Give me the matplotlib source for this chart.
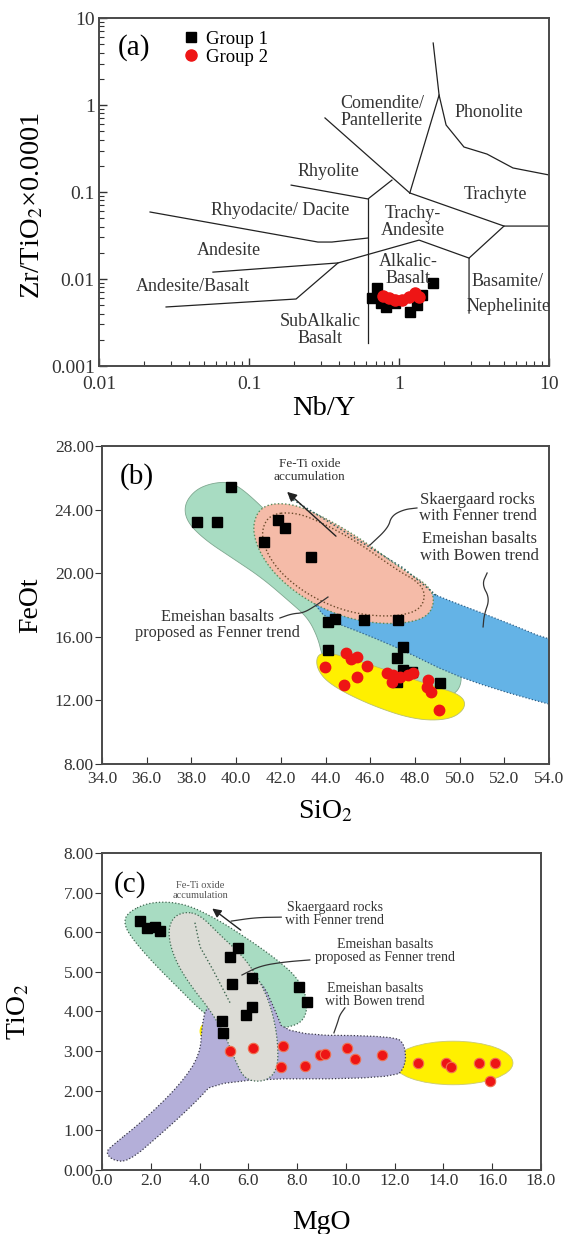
import numpy as np
import matplotlib
matplotlib.use('Agg')
import matplotlib.pyplot as plt
from matplotlib.patches import Polygon, Ellipse
from matplotlib.ticker import FuncFormatter, FixedLocator, LogLocator, NullFormatter

plt.rcParams['font.family'] = ['Liberation Serif', 'DejaVu Serif']
plt.rcParams['mathtext.fontset'] = 'stix'

# ---------------- panel (a): Nb/Y vs Zr/TiO2 ----------------
a_g1_nby = [0.66, 0.71, 0.76, 0.82, 0.87, 0.94, 1.18, 1.32, 1.42, 1.69]
a_g1_zr = [0.0060, 0.0079, 0.0053, 0.0048, 0.0058, 0.0053, 0.0042, 0.0050, 0.0066, 0.0090]
a_g2_nby = [0.78, 0.86, 0.94, 1.05, 1.16, 1.27, 1.35]
a_g2_zr = [0.0064, 0.0061, 0.0058, 0.0058, 0.0062, 0.0069, 0.0062]

# field boundaries (Winchester & Floyd), each as (Nb/Y list, Zr/TiO2 list)
a_fields = [
    ([1.69, 1.85, 2.06, 2.71, 3.86, 5.75, 10.0], [5.16, 1.30, 0.589, 0.329, 0.273, 0.189, 0.157]),
    ([1.18, 1.85], [0.0975, 1.30]),
    ([0.321, 1.18], [0.71, 0.0975]),
    ([0.191, 0.621, 0.897], [0.120, 0.0832, 0.137]),
    ([0.621, 0.621], [0.0832, 0.00184]),
    ([1.18, 5.01, 10.0], [0.0975, 0.0406, 0.0406]),
    ([5.01, 2.93, 2.93], [0.0406, 0.0174, 0.00406]),
    ([0.0219, 0.288, 0.357, 0.621], [0.0589, 0.0266, 0.0266, 0.0296]),
    ([0.0575, 0.392, 1.36, 2.93], [0.0120, 0.0153, 0.0280, 0.0174]),
    ([0.0280, 0.206, 0.392], [0.00477, 0.00589, 0.0153]),
]
a_names = ['Comendite/\nPantellerite', 'Phonolite', 'Rhyolite', 'Trachyte',
           'Rhyodacite/ Dacite', 'Trachy-\nAndesite', 'Andesite', 'Alkalic-\nBasalt',
           'Andesite/Basalt', 'Basamite/', 'Nephelinite', 'SubAlkalic\nBasalt']
a_name_x = [0.77, 3.98, 0.34, 4.37, 0.161, 1.24, 0.0736, 1.15, 0.0424, 5.25, 5.35, 0.297]
a_name_y = [0.83, 0.81, 0.174, 0.0925, 0.062, 0.0452, 0.021, 0.0127, 0.0081, 0.00925, 0.00477, 0.0026]

# ---------------- panel (b): SiO2 vs FeOt ----------------
b_g1_sio2 = [39.77, 38.25, 39.15, 41.87, 42.19, 41.25, 43.35, 44.11, 44.42, 45.72, 47.24,
             44.11, 47.47, 47.20, 47.47, 47.87, 47.20, 49.12]
b_g1_feot = [25.42, 23.22, 23.22, 23.35, 22.84, 21.96, 21.02, 16.93, 17.12, 17.06, 17.06,
             15.17, 15.36, 14.67, 13.91, 13.79, 13.16, 13.09]
b_g2_sio2 = [43.98, 44.92, 45.14, 45.41, 45.86, 45.41, 44.83, 46.75, 47.02, 47.33, 47.69,
             46.98, 48.59, 48.54, 48.72, 49.08, 47.91]
b_g2_feot = [14.10, 14.98, 14.60, 14.73, 14.16, 13.47, 12.97, 13.72, 13.60, 13.47, 13.60,
             13.16, 13.28, 12.84, 12.53, 11.40, 13.72]

b_green_x = [39.77, 40.62, 42.41, 44.65, 47.33, 50.02, 50.11, 49.12, 47.33, 45.54, 44.20,
             43.84, 43.66, 43.22, 42.41, 41.16, 39.82, 38.61, 37.80, 37.67, 38.16, 38.92]
b_green_y = [25.74, 24.92, 22.40, 18.94, 16.43, 14.54, 12.65, 12.03, 12.34, 12.97, 13.79,
             14.86, 15.92, 17.18, 18.19, 19.70, 20.96, 22.09, 23.22, 24.29, 25.23, 25.67]
b_blue_x = [43.5, 47.33, 48.99, 51.81, 54.0, 54.6, 54.6, 54.0, 51.5, 49.57, 47.47, 45.8,
            44.4, 43.7, 42.9]
b_blue_y = [22.6, 19.57, 18.57, 17.06, 15.80, 15.80, 11.60, 11.75, 12.75, 13.70, 15.15,
            16.15, 16.90, 17.60, 19.5]
b_pink_x = [41.16, 42.41, 43.75, 45.54, 47.47, 48.59, 48.90, 48.59, 47.47, 45.99, 44.51,
            42.99, 41.74, 40.98, 40.71]
b_pink_y = [24.29, 24.42, 23.66, 22.21, 20.20, 19.26, 18.31, 17.25, 16.81, 16.87, 17.37,
            18.44, 19.89, 21.46, 23.03]
b_yellow_x = [43.66, 44.65, 46.44, 48.68, 50.11, 50.29, 49.57, 48.00, 45.99, 44.20, 43.57]
b_yellow_y = [15.04, 14.86, 14.04, 12.97, 12.34, 11.52, 10.77, 10.77, 11.71, 12.97, 14.04]
b_skaer_x = [42.4, 45.23, 47.47, 48.99]
b_skaer_y = [24.75, 22.28, 20.33, 18.57]

# ---------------- panel (c): MgO vs TiO2 ----------------
c_g1_mgo = [1.56, 1.84, 2.17, 2.38, 5.57, 5.25, 6.15, 5.33, 8.07, 8.40, 6.15, 5.90, 4.92, 4.96]
c_g1_tio2 = [6.29, 6.11, 6.14, 6.04, 5.61, 5.38, 4.85, 4.70, 4.62, 4.24, 4.12, 3.91, 3.76, 3.46]
c_g2_mgo = [5.25, 6.19, 7.42, 7.34, 8.32, 8.93, 9.14, 10.04, 10.37, 11.48, 12.95, 14.10, 14.30,
            15.45, 16.11, 15.90]
c_g2_tio2 = [3.01, 3.08, 3.13, 2.60, 2.63, 2.90, 2.93, 3.08, 2.80, 2.90, 2.70, 2.70, 2.60,
             2.70, 2.70, 2.25]

c_green_x = [1.02, 1.97, 3.32, 4.63, 5.86, 7.09, 8.03, 8.44, 8.32, 7.70, 6.27, 4.84, 4.02,
             3.20, 2.17, 1.27, 0.90]
c_green_y = [6.49, 6.77, 6.74, 6.36, 5.88, 5.35, 4.85, 4.29, 3.79, 3.59, 3.54, 3.66, 4.04,
             4.55, 5.18, 5.81, 6.19]
c_gray_x = [3.40, 4.02, 4.84, 5.86, 6.56, 6.97, 7.21, 7.21, 6.68, 5.86, 5.45, 5.04, 4.43,
            3.61, 2.99, 2.70, 2.87]
c_gray_y = [6.52, 6.44, 5.93, 5.35, 4.67, 4.04, 3.28, 2.53, 2.22, 2.27, 2.78, 3.41, 4.04,
            4.67, 5.30, 5.93, 6.36]
c_lav_x = [0.41, 1.72, 3.20, 4.02, 4.10, 4.30, 5.25, 5.98, 6.56, 7.09, 7.50, 12.01, 12.42,
           12.46, 12.01, 4.71, 3.81, 2.46, 1.07, 0.41, 0.16]
c_lav_y = [0.61, 1.26, 2.15, 2.90, 3.66, 4.17, 4.29, 4.85, 4.75, 4.04, 3.41, 3.38, 3.16,
           2.65, 2.30, 2.30, 1.69, 0.93, 0.20, 0.25, 0.45]
c_inner_x = [3.81, 4.02, 4.55, 5.25]
c_inner_y = [6.24, 5.63, 5.05, 4.22]
c_yellow = (14.4, 2.7, 4.9, 1.1)      # centre MgO, centre TiO2, width, height
c_yellow_small = (4.5, 3.5, 1.0, 0.55)

GREEN = '#a8dcc2'
PINK = '#f5bba8'
BLUE = '#64b3e6'
YELLOW = '#fff000'
LAV = '#b4afd9'
GRAY = '#dcdcd6'
RED = '#ee1515'
DOT = (0, (1, 1.6))


def smooth(xs, ys, n=3, closed=True):
    p = np.column_stack([xs, ys]).astype(float)
    for _ in range(n):
        if closed:
            q = np.roll(p, -1, axis=0)
            new = np.empty((2 * len(p), 2))
            new[0::2] = 0.75 * p + 0.25 * q
            new[1::2] = 0.25 * p + 0.75 * q
        else:
            a, b = p[:-1], p[1:]
            mid = np.empty((2 * len(a), 2))
            mid[0::2] = 0.75 * a + 0.25 * b
            mid[1::2] = 0.25 * a + 0.75 * b
            new = np.vstack([p[:1], mid, p[-1:]])
        p = new
    return p


def region(ax, xs, ys, fc, ec='none', ls='-', lw=0.8, n=3, z=1):
    pts = smooth(xs, ys, n)
    ax.add_patch(Polygon(pts, closed=True, facecolor=fc, edgecolor=ec,
                         linestyle=ls, linewidth=lw, zorder=z))
    return pts


def leader(ax, xs, ys):
    p = smooth(xs, ys, 3, closed=False)
    ax.plot(p[:, 0], p[:, 1], color='#333333', lw=0.9, zorder=4)


def box(ax):
    for s in ax.spines.values():
        s.set_color('#4a4a4a')
        s.set_linewidth(1.4)


fig = plt.figure(figsize=(5.66, 12.34), dpi=100)
ax1 = fig.add_axes([0.1749, 0.7034, 0.7951, 0.2820])
ax2 = fig.add_axes([0.1802, 0.3809, 0.7898, 0.2577])
ax3 = fig.add_axes([0.1802, 0.0519, 0.7756, 0.2569])

# ---- (a)
ax1.set_xscale('log')
ax1.set_yscale('log')
ax1.set_xlim(0.01, 10)
ax1.set_ylim(0.001, 10)
for fx, fy in a_fields:
    ax1.plot(fx, fy, color='#222222', lw=0.9, zorder=2)
for t, x, y in zip(a_names, a_name_x, a_name_y):
    ax1.text(x, y, t, ha='center', va='center', fontsize=13, color='#333333',
             linespacing=0.95, zorder=4, clip_on=True)
ax1.plot(a_g1_nby, a_g1_zr, 's', color='black', ms=7.5, zorder=3, label='Group 1')
ax1.plot(a_g2_nby, a_g2_zr, 'o', color=RED, ms=8, zorder=3, label='Group 2')
ax1.legend(loc='upper left', bbox_to_anchor=(0.168, 0.985), frameon=False, fontsize=13.5,
           handlelength=0.9, handletextpad=0.4, labelspacing=0.05, borderaxespad=0)
ax1.text(0.078, 0.915, '(a)', transform=ax1.transAxes, fontsize=21, ha='center', va='center')
ax1.xaxis.set_major_locator(FixedLocator([0.01, 0.1, 1, 10]))
ax1.yaxis.set_major_locator(FixedLocator([0.001, 0.01, 0.1, 1, 10]))
ax1.xaxis.set_minor_locator(LogLocator(base=10, subs=np.arange(2, 10)))
ax1.yaxis.set_minor_locator(LogLocator(base=10, subs=np.arange(2, 10)))
ax1.xaxis.set_minor_formatter(NullFormatter())
ax1.yaxis.set_minor_formatter(NullFormatter())
fmt = FuncFormatter(lambda v, p: '%g' % v)
ax1.xaxis.set_major_formatter(fmt)
ax1.yaxis.set_major_formatter(fmt)
ax1.tick_params(which='both', direction='in', top=False, right=False, colors='#333333',
                labelsize=14)
ax1.tick_params(which='major', length=6, width=1.0)
ax1.tick_params(which='minor', length=3.5, width=0.8)
ax1.tick_params(axis='x', pad=7)
ax1.tick_params(axis='y', pad=3)
ax1.set_xlabel('Nb/Y', fontsize=20.5)
ax1.set_ylabel(r'Zr/TiO$_2$×0.0001', fontsize=20.5)
ax1.xaxis.set_label_coords(0.5, -0.085)
ax1.yaxis.set_label_coords(-0.118, 0.46)
box(ax1)

# ---- (b)
ax2.set_xlim(34, 54)
ax2.set_ylim(8, 28)
region(ax2, b_green_x, b_green_y, GREEN, ec='#7fa890', lw=0.6, z=1)
region(ax2, b_blue_x, b_blue_y, BLUE, ec='#2f5f86', ls=DOT, lw=0.9, n=1, z=1.2)
pk = region(ax2, b_pink_x, b_pink_y, PINK, ec='#5a8a5a', ls=DOT, lw=1.0, z=1.4)
cen = pk.mean(axis=0)
inner = cen + (pk - cen) * np.array([0.9, 0.86])
ax2.plot(np.r_[inner[:, 0], inner[0, 0]], np.r_[inner[:, 1], inner[0, 1]],
         color='#6b4a2a', ls=DOT, lw=1.0, zorder=1.5)
ax2.plot(b_skaer_x, b_skaer_y, color='#2f5f5f', ls=DOT, lw=1.1, zorder=1.5)
region(ax2, b_yellow_x, b_yellow_y, YELLOW, ec='#b8c070', lw=0.6, z=1.6)
ax2.plot(b_g1_sio2, b_g1_feot, 's', color='black', ms=7, zorder=3)
ax2.plot(b_g2_sio2, b_g2_feot, 'o', color=RED, ms=7.5, zorder=3)
ax2.annotate('', xy=(42.19, 25.23), xytext=(44.56, 22.21),
             arrowprops=dict(arrowstyle='-|>', color='#222222', lw=1.0, mutation_scale=14),
             zorder=4)
ax2.text(43.3, 26.45, 'Fe-Ti oxide\naccumulation', fontsize=9.5, ha='center', va='center',
         color='#333333', linespacing=1.1)
ax2.text(50.8, 24.1, 'Skaergaard rocks\nwith Fenner trend', fontsize=12, ha='center',
         va='center', color='#333333', linespacing=1.05)
ax2.text(50.9, 21.6, 'Emeishan basalts\nwith Bowen trend', fontsize=12, ha='center',
         va='center', color='#333333', linespacing=1.05)
ax2.text(39.15, 16.75, 'Emeishan basalts\nproposed as Fenner trend', fontsize=11.7,
         ha='center', va='center', color='#333333', linespacing=1.05)
leader(ax2, [48.09, 47.5, 46.95, 46.80, 45.99], [24.10, 24.0, 23.6, 22.84, 21.77])
leader(ax2, [51.23, 51.0, 51.35, 51.1, 51.05], [20.01, 19.3, 18.4, 17.4, 16.62])
leader(ax2, [41.96, 42.5, 43.0, 43.5, 44.11], [17.18, 17.45, 17.5, 17.9, 18.50])
ax2.text(0.078, 0.905, '(b)', transform=ax2.transAxes, fontsize=21, ha='center', va='center')
ax2.set_xticks(np.arange(34, 54.1, 2))
ax2.set_yticks(np.arange(8, 28.1, 4))
ax2.xaxis.set_major_formatter(FuncFormatter(lambda v, p: '%.1f' % v))
ax2.yaxis.set_major_formatter(FuncFormatter(lambda v, p: '%.2f' % v))
ax2.tick_params(axis='x', direction='in', length=5, pad=5, colors='#333333', labelsize=12.5)
ax2.tick_params(axis='y', direction='out', length=5, pad=1, colors='#333333', labelsize=12.5)
ax2.set_xlabel(r'SiO$_2$', fontsize=20)
ax2.set_ylabel('FeOt', fontsize=20)
ax2.xaxis.set_label_coords(0.5, -0.11)
ax2.yaxis.set_label_coords(-0.132, 0.5)
box(ax2)

# ---- (c)
ax3.set_xlim(0, 18)
ax3.set_ylim(0, 8)
ax3.add_patch(Ellipse(c_yellow[:2], c_yellow[2], c_yellow[3], facecolor=YELLOW,
                      edgecolor='#c8c878', lw=0.6, zorder=1))
ax3.add_patch(Ellipse(c_yellow_small[:2], c_yellow_small[2], c_yellow_small[3],
                      facecolor=YELLOW, edgecolor='none', zorder=1))
region(ax3, c_green_x, c_green_y, GREEN, ec='#3f6650', ls=DOT, lw=0.9, z=1.2)
region(ax3, c_lav_x, c_lav_y, LAV, ec='#3a3a4a', ls=DOT, lw=0.9, n=2, z=1.4)
region(ax3, c_gray_x, c_gray_y, GRAY, ec='#3f6650', ls=DOT, lw=0.9, z=1.6)
ax3.plot(c_inner_x, c_inner_y, color='#3f6650', ls=DOT, lw=1.0, zorder=1.7)
ax3.plot(c_g1_mgo, c_g1_tio2, 's', color='black', ms=7, zorder=3)
ax3.plot(c_g2_mgo, c_g2_tio2, 'o', color=RED, mec='#f07050', mew=0.8, ms=7.5, zorder=3)
ax3.annotate('', xy=(4.43, 6.64), xytext=(5.78, 6.01),
             arrowprops=dict(arrowstyle='-|>', color='#222222', lw=1.0, mutation_scale=13),
             zorder=4)
ax3.text(4.02, 7.05, 'Fe-Ti oxide\naccumulation', fontsize=7.5, ha='center', va='center',
         color='#555555', linespacing=1.1)
ax3.text(9.55, 6.46, 'Skaergaard rocks\nwith Fenner trend', fontsize=10, ha='center',
         va='center', color='#333333', linespacing=1.05)
ax3.text(11.6, 5.53, 'Emeishan basalts\nproposed as Fenner trend', fontsize=10, ha='center',
         va='center', color='#333333', linespacing=1.05)
ax3.text(11.2, 4.42, 'Emeishan basalts\nwith Bowen trend', fontsize=10, ha='center',
         va='center', color='#333333', linespacing=1.05)
leader(ax3, [7.35, 6.3, 5.3], [6.38, 6.37, 6.28])
leader(ax3, [8.52, 7.50, 6.48, 5.74], [5.30, 5.25, 5.15, 4.92])
leader(ax3, [9.96, 9.75, 9.67, 9.51], [4.09, 3.91, 3.74, 3.46])
ax3.text(0.064, 0.9, '(c)', transform=ax3.transAxes, fontsize=21, ha='center', va='center')
ax3.set_xticks(np.arange(0, 18.1, 2))
ax3.set_yticks(np.arange(0, 8.1, 1))
ax3.xaxis.set_major_formatter(FuncFormatter(lambda v, p: '%.1f' % v))
ax3.yaxis.set_major_formatter(FuncFormatter(lambda v, p: '%.2f' % v))
ax3.tick_params(axis='x', direction='in', length=5, pad=2, colors='#333333', labelsize=12.5)
ax3.tick_params(axis='y', direction='out', length=5, pad=1, colors='#333333', labelsize=12.5)
ax3.set_xlabel('MgO', fontsize=20)
ax3.set_ylabel(r'TiO$_2$', fontsize=20)
ax3.xaxis.set_label_coords(0.5, -0.125)
ax3.yaxis.set_label_coords(-0.16, 0.5)
box(ax3)

fig.savefig('out.png', dpi=100)
